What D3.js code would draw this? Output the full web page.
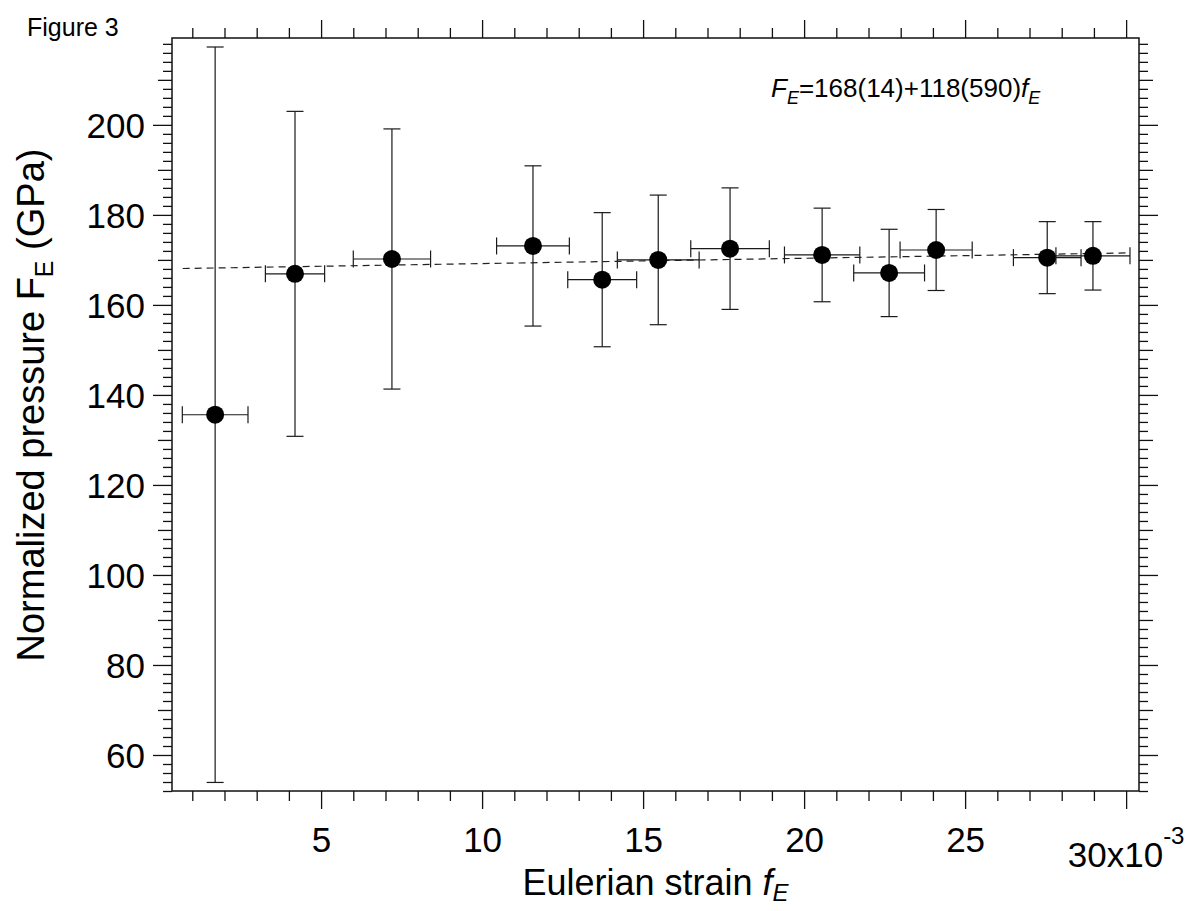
<!DOCTYPE html>
<html>
<head>
<meta charset="utf-8">
<script src="https://cdn.jsdelivr.net/npm/d3@7"></script>
<style>
  body { margin: 0; background: #fff; }
  text { font-family: "Liberation Sans", Arial, sans-serif; fill: #000; }
</style>
</head>
<body>
<div class="chart"></div>
<script>
// Data (strain in units of 1e-3, pressure in GPa)
const strain      = [1.71, 4.19, 7.20, 11.58, 13.73, 15.47, 17.70, 20.56, 22.64, 24.10, 27.55, 28.97];
const strainErr   = [1.02, 0.92, 1.20, 1.13, 1.07, 1.27, 1.22, 1.17, 1.10, 1.12, 1.05, 1.15];
const pressure    = [135.6, 166.9, 170.2, 173.1, 165.6, 170.0, 172.5, 171.1, 167.1, 172.2, 170.5, 170.9];
const pressureErr = [81.7, 36.1, 28.9, 17.8, 14.9, 14.4, 13.5, 10.4, 9.7, 9.0, 8.0, 7.6];

// linear fit F_E = a + b f_E, drawn over this strain range
const fitParams = [168, 118];
const fitRange = [0.7, 30.1];

const xTickValues = d3.range(1, 31);
const yTickValues = d3.range(52, 219, 2);

const margin = { top: 38, right: 54, bottom: 120, left: 172 };
const width = 1193 - margin.left - margin.right;
const height = 911 - margin.top - margin.bottom;

const x = d3.scaleLinear().domain([0.37, 30.4]).range([0, width]);
const y = d3.scaleLinear().domain([52, 219.3]).range([height, 0]);

const root = d3.select(".chart").append("svg")
    .attr("width", 1193)
    .attr("height", 911);

const svg = root.append("g")
    .attr("transform", `translate(${margin.left},${margin.top})`);

// Figure label
root.append("text")
    .attr("x", 27)
    .attr("y", 36)
    .style("font-size", "25px")
    .text("Figure 3");

const xLen = d => d % 5 === 0 ? 18 : 10;
const yLen = d => d % 20 === 0 ? 19 : (d % 10 === 0 ? 14 : 9);

function styleAxis(g) {
    g.select(".domain").remove();
    g.selectAll(".tick line").attr("stroke", "#111").attr("stroke-width", 1.3);
}

// bottom axis
const xAxis = svg.append("g")
    .attr("transform", `translate(0,${height})`)
    .call(d3.axisBottom(x).tickValues(xTickValues).tickSizeOuter(0)
        .tickFormat(d => (d % 5 === 0 && d < 30) ? d : ""));
styleAxis(xAxis);
xAxis.selectAll(".tick line").attr("y2", xLen);
xAxis.selectAll(".tick text")
    .attr("y", 61).attr("dy", 0)
    .style("font-size", "35px")
    .style("font-family", "'Liberation Sans', Arial, sans-serif")
    .attr("fill", "#000");

const lastLabel = svg.append("text")
    .attr("x", x(30))
    .attr("y", height + 76)
    .attr("text-anchor", "middle")
    .style("font-size", "35px");
lastLabel.append("tspan").text("30x10");
lastLabel.append("tspan").attr("dy", -23).style("font-size", "24px").text("-3");

// top axis
const xTop = svg.append("g")
    .call(d3.axisTop(x).tickValues(xTickValues).tickSizeOuter(0).tickFormat(""));
styleAxis(xTop);
xTop.selectAll(".tick line").attr("y2", d => -xLen(d));

// left axis
const yAxis = svg.append("g")
    .call(d3.axisLeft(y).tickValues(yTickValues).tickSizeOuter(0)
        .tickFormat(d => d % 20 === 0 ? d : ""));
styleAxis(yAxis);
yAxis.selectAll(".tick line").attr("x2", d => -yLen(d));
yAxis.selectAll(".tick text")
    .attr("x", -27).attr("dy", "0.36em")
    .style("font-size", "35px")
    .style("font-family", "'Liberation Sans', Arial, sans-serif")
    .attr("fill", "#000");

// right axis
const yRight = svg.append("g")
    .attr("transform", `translate(${width},0)`)
    .call(d3.axisRight(y).tickValues(yTickValues).tickSizeOuter(0).tickFormat(""));
styleAxis(yRight);
yRight.selectAll(".tick line").attr("x2", yLen);

// frame
svg.append("rect")
    .attr("width", width)
    .attr("height", height)
    .attr("fill", "none")
    .attr("stroke", "#111")
    .attr("stroke-width", 1.5);

// fit line
const fitLine = d3.line()
    .x(d => x(d))
    .y(d => y(fitParams[0] + fitParams[1] * d * 1e-3));

svg.append("path")
    .datum(fitRange)
    .attr("d", fitLine)
    .attr("fill", "none")
    .attr("stroke", "#222")
    .attr("stroke-width", 1.2)
    .attr("stroke-dasharray", "7,5");

// error bars and points
const points = strain.map((s, i) => ({
    s: s, se: strainErr[i], p: pressure[i], pe: pressureErr[i]
}));
const cap = 8.5;

const pt = svg.selectAll(".pt")
    .data(points)
    .enter().append("g")
    .attr("class", "pt")
    .attr("stroke", "#1a1a1a")
    .attr("stroke-width", 1.2);

pt.append("line")
    .attr("x1", d => x(d.s)).attr("x2", d => x(d.s))
    .attr("y1", d => y(d.p - d.pe)).attr("y2", d => y(d.p + d.pe));
pt.append("line")
    .attr("x1", d => x(d.s) - cap).attr("x2", d => x(d.s) + cap)
    .attr("y1", d => y(d.p + d.pe)).attr("y2", d => y(d.p + d.pe));
pt.append("line")
    .attr("x1", d => x(d.s) - cap).attr("x2", d => x(d.s) + cap)
    .attr("y1", d => y(d.p - d.pe)).attr("y2", d => y(d.p - d.pe));

pt.append("line")
    .attr("x1", d => x(d.s - d.se)).attr("x2", d => x(d.s + d.se))
    .attr("y1", d => y(d.p)).attr("y2", d => y(d.p));
pt.append("line")
    .attr("x1", d => x(d.s - d.se)).attr("x2", d => x(d.s - d.se))
    .attr("y1", d => y(d.p) - cap).attr("y2", d => y(d.p) + cap);
pt.append("line")
    .attr("x1", d => x(d.s + d.se)).attr("x2", d => x(d.s + d.se))
    .attr("y1", d => y(d.p) - cap).attr("y2", d => y(d.p) + cap);

pt.append("circle")
    .attr("cx", d => x(d.s))
    .attr("cy", d => y(d.p))
    .attr("r", 9)
    .attr("fill", "#000")
    .attr("stroke", "none");

// equation
const eq = root.append("text")
    .attr("x", 771)
    .attr("y", 97)
    .style("font-size", "26px");
eq.append("tspan").style("font-style", "italic").text("F");
eq.append("tspan").style("font-style", "italic").style("font-size", "18px").attr("dy", 7).text("E");
eq.append("tspan").attr("dy", -7).text("=168(14)+118(590)");
eq.append("tspan").style("font-style", "italic").text("f");
eq.append("tspan").style("font-style", "italic").style("font-size", "18px").attr("dy", 7).text("E");

// axis titles
const xTitle = root.append("text")
    .attr("x", margin.left + width / 2)
    .attr("y", 895)
    .attr("text-anchor", "middle")
    .style("font-size", "36px");
xTitle.append("tspan").text("Eulerian strain ");
xTitle.append("tspan").style("font-style", "italic").text("f");
xTitle.append("tspan").style("font-style", "italic").style("font-size", "24px").attr("dy", 6).text("E");

const yTitle = root.append("text")
    .attr("transform", `translate(44,405) rotate(-90)`)
    .attr("text-anchor", "middle")
    .style("font-size", "38px");
yTitle.append("tspan").text("Normalized pressure F");
yTitle.append("tspan").style("font-size", "25px").attr("dy", 9).text("E");
yTitle.append("tspan").attr("dy", -9).text(" (GPa)");
</script>
</body>
</html>
